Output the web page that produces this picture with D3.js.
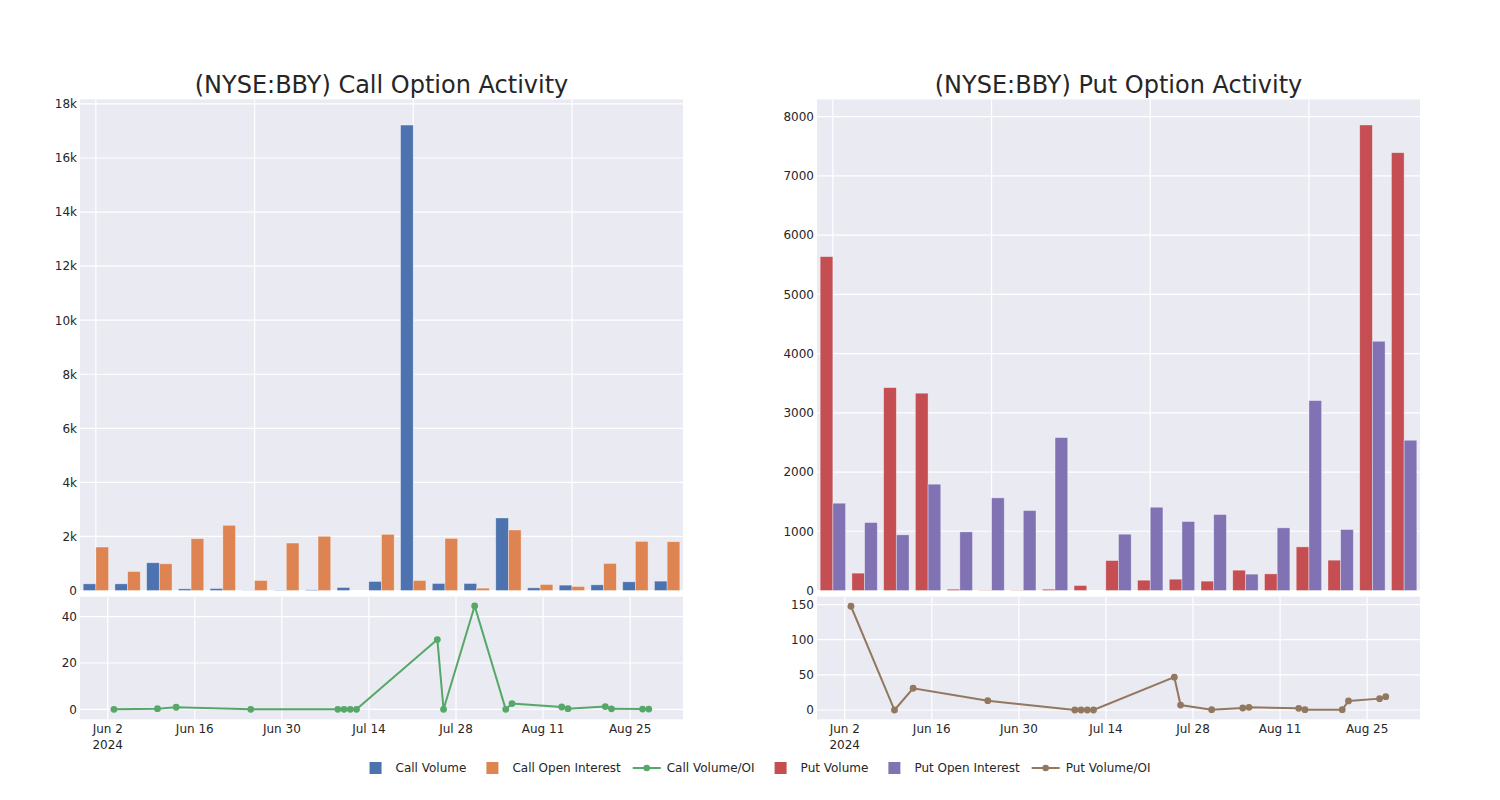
<!DOCTYPE html>
<html>
<head>
<meta charset="utf-8">
<script src="https://cdn.jsdelivr.net/npm/d3@7"></script>
<style>
  html, body { margin: 0; padding: 0; background: #ffffff; }
  svg { display: block; font-family: "DejaVu Sans", sans-serif; }
</style>
</head>
<body>
<svg id="chart" width="1500" height="800"></svg>
<script>
// ---------------- DATA ----------------
const dates = ["2024-06-03","2024-06-10","2024-06-13","2024-06-25","2024-07-09","2024-07-10","2024-07-11",
  "2024-07-12","2024-07-25","2024-07-26","2024-07-31","2024-08-05","2024-08-06","2024-08-14","2024-08-15",
  "2024-08-21","2024-08-22","2024-08-27","2024-08-28"];

const callVolume = [247, 247, 1027, 62, 74, 8, 12, 25, 111, 334, 17220, 260, 260, 2684, 99, 198, 210, 322, 346];
const callOpenInterest = [1608, 705, 990, 1917, 2412, 371, 1756, 2004, 0, 2078, 371, 1929, 87, 2239, 223, 148, 1002, 1818, 1806];
const callVolOI = [0, 0.3, 0.9, 0, 0, 0, 0, 0, 30.1, 0, 44.6, 0, 2.5, 1.0, 0.3, 1.2, 0.2, 0.1, 0.1];

const putVolume = [5637, 293, 3426, 3331, 22, 5, 5, 22, 84, 506, 174, 191, 158, 343, 281, 737, 512, 7860, 7392];
const putOpenInterest = [1474, 1148, 940, 1795, 990, 1564, 1350, 2582, 0, 951, 1406, 1165, 1283, 276, 1058, 3207, 1030, 4208, 2537];
const putVolOI = [147.6, 0, 31, 13.3, 0, 0, 0, 0, 46.7, 7.1, 0.5, 2.9, 3.8, 2.4, 0.5, 0.5, 12.9, 16.2, 19];

const callTicks = [0, 2000, 4000, 6000, 8000, 10000, 12000, 14000, 16000, 18000];
const callTickLabels = ["0", "2k", "4k", "6k", "8k", "10k", "12k", "14k", "16k", "18k"];
const putTicks = [0, 1000, 2000, 3000, 4000, 5000, 6000, 7000, 8000];
const callRatioTicks = [0, 20, 40];
const putRatioTicks = [0, 50, 100, 150];
const dateTicks = ["2024-06-02","2024-06-16","2024-06-30","2024-07-14","2024-07-28","2024-08-11","2024-08-25"];
const dateTickLabels = ["Jun 2\n2024","Jun 16","Jun 30","Jul 14","Jul 28","Aug 11","Aug 25"];

const titles = ["(NYSE:BBY) Call Option Activity", "(NYSE:BBY) Put Option Activity"];
const legendItems = [
  {label: "Call Volume", type: "rect", color: "#4C72B0"},
  {label: "Call Open Interest", type: "rect", color: "#DD8452"},
  {label: "Call Volume/OI", type: "line", color: "#55A868"},
  {label: "Put Volume", type: "rect", color: "#C44E52"},
  {label: "Put Open Interest", type: "rect", color: "#8172B3"},
  {label: "Put Volume/OI", type: "line", color: "#937860"}
];

// ---------------- STYLE / LAYOUT ----------------
const BG = "#EAEAF2", TXT = "#262626";
const parse = d3.timeParse("%Y-%m-%d");
const svg = d3.select("#chart");

function panel(opt) {
  const {x0, x1, vol, oi, ratio, c1, c2, c3, yMax, yTicks, yLabels, rDomain, rTicks, title} = opt;
  const top0 = 99.5, top1 = 590.5, bot0 = 596.7, bot1 = 719.3;

  // ---- top bar chart ----
  const g = svg.append("g");
  g.append("rect").attr("x", x0).attr("y", top0).attr("width", x1 - x0).attr("height", top1 - top0).attr("fill", BG);
  const xb = d3.scaleBand().domain(d3.range(dates.length)).range([x0, x1]).paddingInner(0).paddingOuter(0);
  const y = d3.scaleLinear().domain([0, yMax]).range([top1, top0]);
  const bw = xb.bandwidth();

  // grid
  g.selectAll(".hg").data(yTicks).enter().append("line")
    .attr("x1", x0).attr("x2", x1).attr("y1", d => y(d)).attr("y2", d => y(d))
    .attr("stroke", "#fff").attr("stroke-width", 1.2);
  g.selectAll(".vg").data([0, 5, 10, 15]).enter().append("line")
    .attr("x1", d => xb(d) + bw / 2).attr("x2", d => xb(d) + bw / 2).attr("y1", top0).attr("y2", top1)
    .attr("stroke", "#fff").attr("stroke-width", 1.2);

  // bars
  g.selectAll(".b1").data(vol).enter().append("rect")
    .attr("x", (d, i) => xb(i) + bw * 0.1).attr("width", bw * 0.4)
    .attr("y", d => y(d)).attr("height", d => y(0) - y(d))
    .attr("fill", c1).attr("stroke", "rgba(255,255,255,0.45)").attr("stroke-width", 0.8);
  g.selectAll(".b2").data(oi).enter().append("rect")
    .attr("x", (d, i) => xb(i) + bw * 0.5).attr("width", bw * 0.4)
    .attr("y", d => y(d)).attr("height", d => y(0) - y(d))
    .attr("fill", c2).attr("stroke", "rgba(255,255,255,0.45)").attr("stroke-width", 0.8);

  // y axis labels
  const ya = d3.axisLeft(y).tickValues(yTicks).tickSize(0).tickPadding(0)
    .tickFormat((d, i) => yLabels ? yLabels[i] : String(d));
  const yg = g.append("g").attr("transform", `translate(${x0 - 3},0)`).call(ya);
  yg.select(".domain").remove();
  yg.selectAll("text").attr("fill", TXT).style("font-size", "12px").style("font-family", "DejaVu Sans");

  // title
  g.append("text").attr("x", (x0 + x1) / 2).attr("y", 93).attr("text-anchor", "middle")
    .attr("fill", TXT).style("font-size", "24px").text(title);

  // ---- bottom line chart ----
  const h = svg.append("g");
  h.append("rect").attr("x", x0).attr("y", bot0).attr("width", x1 - x0).attr("height", bot1 - bot0).attr("fill", BG);
  const xt = d3.scaleTime().domain([new Date(2024, 4, 28, 13), new Date(2024, 8, 2, 12)]).range([x0, x1]);
  const yr = d3.scaleLinear().domain(rDomain).range([bot1, bot0]);
  const tickDates = dateTicks.map(d => parse(d));

  h.selectAll(".hg").data(rTicks).enter().append("line")
    .attr("x1", x0).attr("x2", x1).attr("y1", d => yr(d)).attr("y2", d => yr(d))
    .attr("stroke", "#fff").attr("stroke-width", 1.2);
  h.selectAll(".vg").data(tickDates).enter().append("line")
    .attr("x1", d => xt(d)).attr("x2", d => xt(d)).attr("y1", bot0).attr("y2", bot1)
    .attr("stroke", "#fff").attr("stroke-width", 1.2);

  const pts = dates.map((d, i) => ({d: parse(d), v: ratio[i]}));
  h.append("path").datum(pts)
    .attr("d", d3.line().x(p => xt(p.d)).y(p => yr(p.v)))
    .attr("fill", "none").attr("stroke", c3).attr("stroke-width", 2);
  h.selectAll(".pt").data(pts).enter().append("circle")
    .attr("cx", p => xt(p.d)).attr("cy", p => yr(p.v)).attr("r", 3.4).attr("fill", c3);

  const ra = d3.axisLeft(yr).tickValues(rTicks).tickSize(0).tickPadding(0);
  const rg = h.append("g").attr("transform", `translate(${x0 - 3},0)`).call(ra);
  rg.select(".domain").remove();
  rg.selectAll("text").attr("fill", TXT).style("font-size", "12px").style("font-family", "DejaVu Sans");

  // date labels
  const xg = h.append("g");
  tickDates.forEach((d, i) => {
    const lines = dateTickLabels[i].split("\n");
    const t = xg.append("text").attr("x", xt(d)).attr("y", 733).attr("text-anchor", "middle")
      .attr("fill", TXT).style("font-size", "12px");
    lines.forEach((ln, j) => t.append("tspan").attr("x", xt(d)).attr("dy", j === 0 ? 0 : 15.5).text(ln));
  });
}

panel({x0: 80, x1: 683, vol: callVolume, oi: callOpenInterest, ratio: callVolOI,
  c1: "#4C72B0", c2: "#DD8452", c3: "#55A868", yMax: 18165, yTicks: callTicks, yLabels: callTickLabels,
  rDomain: [-4.3, 48.6], rTicks: callRatioTicks, title: titles[0]});
panel({x0: 817, x1: 1420, vol: putVolume, oi: putOpenInterest, ratio: putVolOI,
  c1: "#C44E52", c2: "#8172B3", c3: "#937860", yMax: 8290, yTicks: putTicks, yLabels: null,
  rDomain: [-13.2, 161.2], rTicks: putRatioTicks, title: titles[1]});

// ---------------- LEGEND ----------------
const lg = svg.append("g");
const LY = 768;
let cx = 0;
legendItems.forEach(it => {
  const ig = lg.append("g");
  if (it.type === "rect") {
    ig.append("rect").attr("x", cx + 8).attr("y", LY - 6).attr("width", 12).attr("height", 12).attr("fill", it.color);
  } else {
    ig.append("line").attr("x1", cx).attr("x2", cx + 28).attr("y1", LY).attr("y2", LY)
      .attr("stroke", it.color).attr("stroke-width", 2);
    ig.append("circle").attr("cx", cx + 14).attr("cy", LY).attr("r", 3.3).attr("fill", it.color);
  }
  const t = ig.append("text").attr("x", cx + 34).attr("y", LY + 4.3).attr("fill", TXT)
    .style("font-size", "12px").text(it.label);
  const w = t.node().getComputedTextLength();
  cx += 34 + w + 12;
});
const totalW = cx - 12;
lg.attr("transform", `translate(${756 - totalW / 2},0)`);
</script>
</body>
</html>
